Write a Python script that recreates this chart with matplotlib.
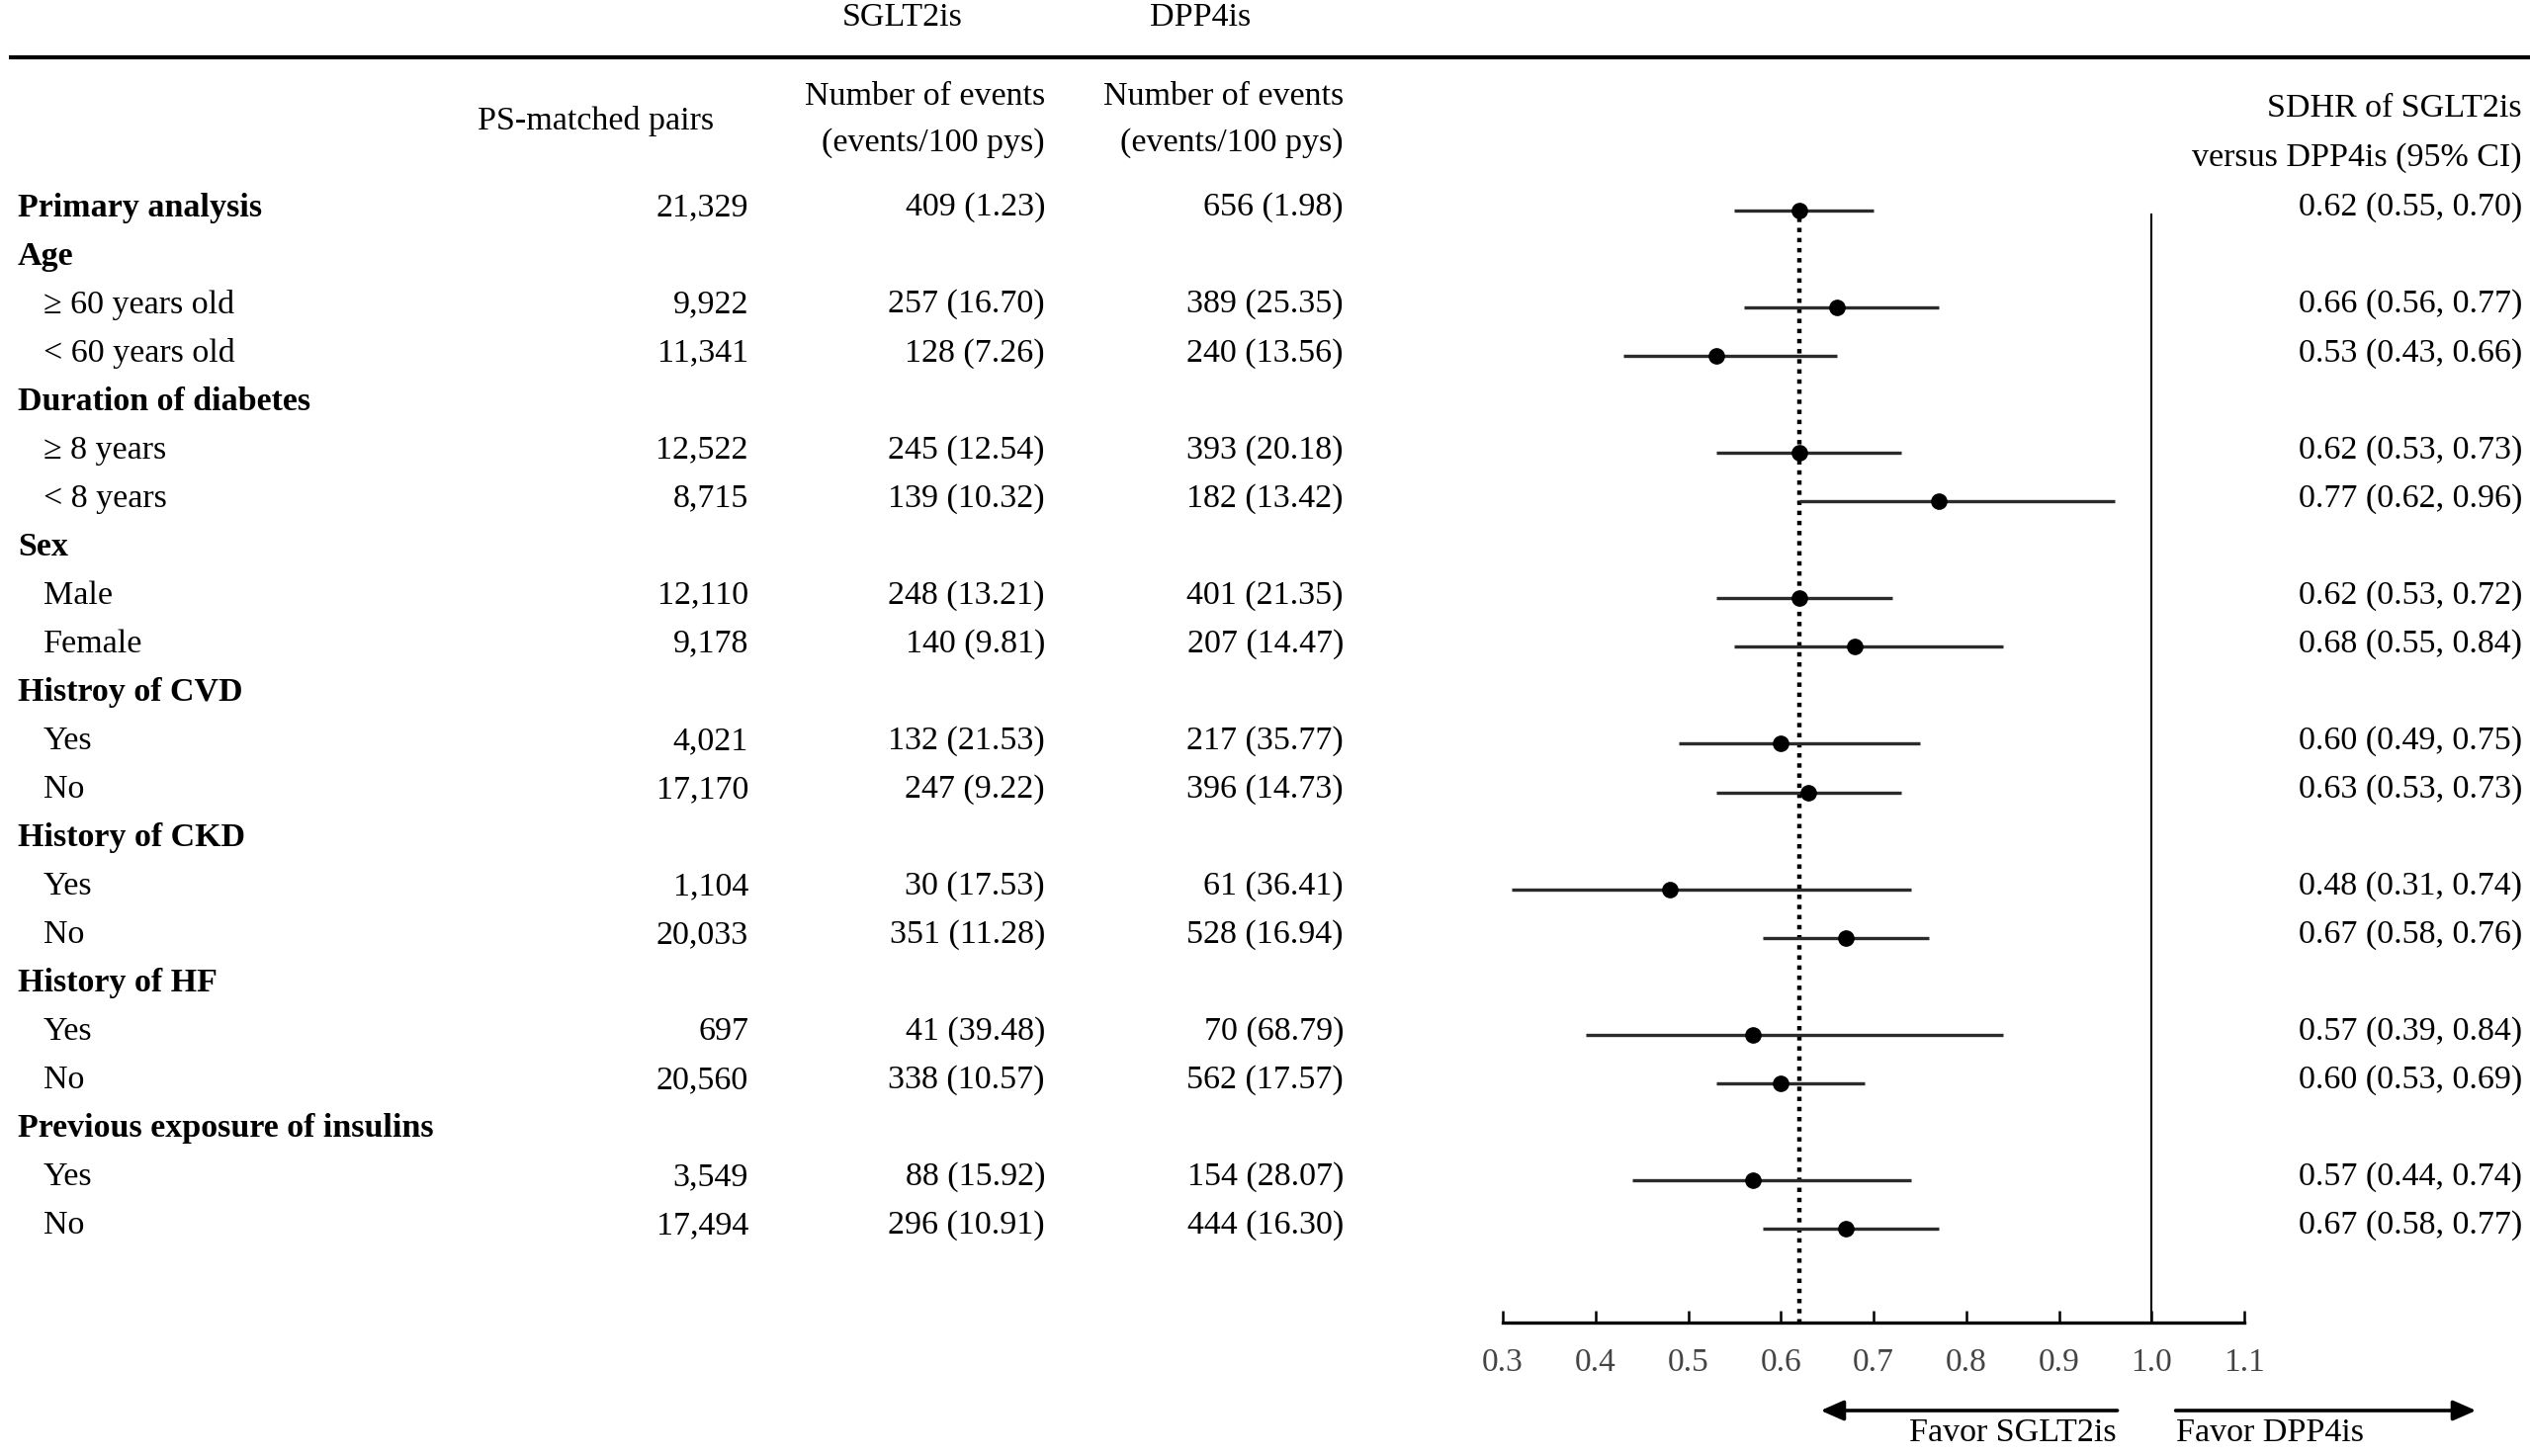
import matplotlib
matplotlib.use("Agg")
import matplotlib.pyplot as plt
import numpy as np

plt.rcParams['font.family'] = ['Liberation Serif', 'DejaVu Serif']

# ================== Data ==================

labels = ["Primary analysis", "Age", "\u2265 60 years old", "< 60 years old",
          "Duration of diabetes", "\u2265 8 years", "< 8 years",
          "Sex", "Male", "Female",
          "Histroy of CVD", "Yes", "No",
          "History of CKD", "Yes", "No",
          "History of HF", "Yes", "No",
          "Previous exposure of insulins", "Yes", "No"]
bold_rows = [0, 1, 4, 7, 10, 13, 16, 19]

pairs = [21329, None, 9922, 11341, None, 12522, 8715, None, 12110, 9178,
         None, 4021, 17170, None, 1104, 20033, None, 697, 20560, None, 3549, 17494]
sglt2_events = [409, None, 257, 128, None, 245, 139, None, 248, 140,
                None, 132, 247, None, 30, 351, None, 41, 338, None, 88, 296]
sglt2_rate = [1.23, None, 16.70, 7.26, None, 12.54, 10.32, None, 13.21, 9.81,
              None, 21.53, 9.22, None, 17.53, 11.28, None, 39.48, 10.57, None, 15.92, 10.91]
dpp4_events = [656, None, 389, 240, None, 393, 182, None, 401, 207,
               None, 217, 396, None, 61, 528, None, 70, 562, None, 154, 444]
dpp4_rate = [1.98, None, 25.35, 13.56, None, 20.18, 13.42, None, 21.35, 14.47,
             None, 35.77, 14.73, None, 36.41, 16.94, None, 68.79, 17.57, None, 28.07, 16.30]
hr = [0.62, None, 0.66, 0.53, None, 0.62, 0.77, None, 0.62, 0.68,
      None, 0.60, 0.63, None, 0.48, 0.67, None, 0.57, 0.60, None, 0.57, 0.67]
hr_lo = [0.55, None, 0.56, 0.43, None, 0.53, 0.62, None, 0.53, 0.55,
         None, 0.49, 0.53, None, 0.31, 0.58, None, 0.39, 0.53, None, 0.44, 0.58]
hr_hi = [0.70, None, 0.77, 0.66, None, 0.73, 0.96, None, 0.72, 0.84,
         None, 0.75, 0.73, None, 0.74, 0.76, None, 0.84, 0.69, None, 0.74, 0.77]
xticks = [0.3, 0.4, 0.5, 0.6, 0.7, 0.8, 0.9, 1.0, 1.1]

# ================== Layout ==================

W, H = 2559, 1473
ROW0, DROW = 210, 49.05
FS = 24.5


def row_of(py):
    return (py - ROW0) / DROW


fig = plt.figure(figsize=(W / 100, H / 100), dpi=100)
tab = fig.add_axes([0, 0, 1, 1])
tab.set_xlim(0, W)
tab.set_ylim(row_of(H), row_of(0))
tab.axis('off')

# header
tab.text(913, row_of(18), "SGLT2is", ha='center', va='center', fontsize=FS)
tab.text(1214, row_of(18), "DPP4is", ha='center', va='center', fontsize=FS)
tab.plot([9, W], [row_of(58)] * 2, color='black', lw=3, solid_capstyle='butt')
tab.text(603, row_of(122), "PS-matched pairs", ha='center', va='center', fontsize=FS)
for xr in (1057, 1359):
    tab.text(xr, row_of(98), "Number of events", ha='right', va='center', fontsize=FS)
    tab.text(xr, row_of(145), "(events/100 pys)", ha='right', va='center', fontsize=FS)
tab.text(2551, row_of(110), "SDHR of SGLT2is", ha='right', va='center', fontsize=FS)
tab.text(2551, row_of(160), "versus DPP4is (95% CI)", ha='right', va='center', fontsize=FS)

# table rows
for i, lab in enumerate(labels):
    if i in bold_rows:
        tab.text(18, i, lab, ha='left', va='center', fontsize=FS, fontweight='bold')
    else:
        tab.text(44, i, lab, ha='left', va='center', fontsize=FS)
    if pairs[i] is None:
        continue
    tab.text(757, i, f"{pairs[i]:,}", ha='right', va='center', fontsize=FS)
    tab.text(1057, i, f"{sglt2_events[i]} ({sglt2_rate[i]:.2f})", ha='right', va='center', fontsize=FS)
    tab.text(1359, i, f"{dpp4_events[i]} ({dpp4_rate[i]:.2f})", ha='right', va='center', fontsize=FS)
    tab.text(2551, i, f"{hr[i]:.2f} ({hr_lo[i]:.2f}, {hr_hi[i]:.2f})", ha='right', va='center', fontsize=FS)

# ================== Forest plot ==================

ax = fig.add_axes([1520 / W, 0, 750 / W, 1], sharey=tab)
ax.patch.set_alpha(0)
ax.set_xlim(0.3, 1.1)
for s in ('top', 'left', 'right'):
    ax.spines[s].set_visible(False)
ax.spines['bottom'].set_position(('data', 23))
ax.spines['bottom'].set_linewidth(2.4)
ax.spines['bottom'].set_bounds(0.3, 1.1)
ax.set_xticks(xticks)
ax.set_xticklabels([f"{t:.1f}" for t in xticks])
ax.tick_params(axis='x', direction='in', length=9, width=1.8, pad=18,
               labelsize=FS - 0.5, labelcolor='#444444')
ax.tick_params(axis='y', left=False, labelleft=False)

ax.plot([1.0, 1.0], [0.15, 23], color='black', lw=1.5)
ax.plot([hr[0], hr[0]], [0, 23], color='black', lw=3.2, linestyle=(0, (1, 1.3)))

for i in range(len(labels)):
    if hr[i] is None:
        continue
    y = i + 0.06
    ax.plot([hr_lo[i], hr_hi[i]], [y, y], color='#2b2b2b', lw=2.4, solid_capstyle='butt')
    ax.plot(hr[i], y, 'o', color='black', markersize=11)

ya = row_of(1427)
arrow_style = dict(arrowstyle='-|>,head_length=0.5,head_width=0.22', lw=2.6,
                   color='black', mutation_scale=28)
ax.annotate('', xy=(0.64, ya), xytext=(0.966, ya), annotation_clip=False,
            arrowprops=arrow_style)
ax.annotate('', xy=(1.353, ya), xytext=(1.023, ya), annotation_clip=False,
            arrowprops=arrow_style)
ax.text(0.962, row_of(1450), "Favor SGLT2is", ha='right', va='center', fontsize=FS)
ax.text(1.026, row_of(1450), "Favor DPP4is", ha='left', va='center', fontsize=FS)

fig.savefig("out.png", dpi=100)
